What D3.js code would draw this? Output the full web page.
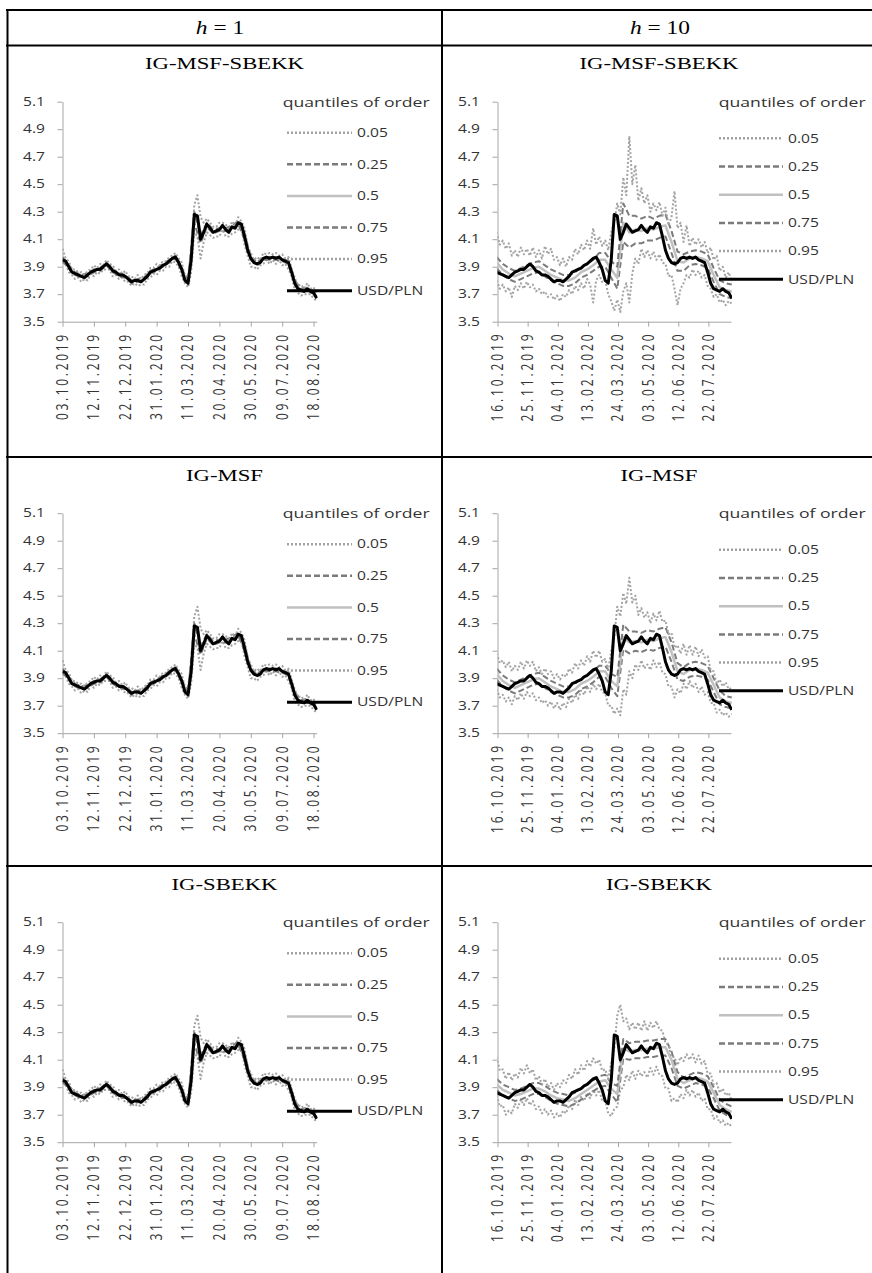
<!DOCTYPE html>
<html><head><meta charset="utf-8">
<script src="https://cdn.jsdelivr.net/npm/d3@7"></script>
<style>html,body{margin:0;padding:0;background:#fff;}svg{display:block;}</style>
</head><body>
<script>
// ---------------- DATA ----------------
const columnHeaders = ["1", "10"];            // h = 1, h = 10
const modelNames = ["IG-MSF-SBEKK", "IG-MSF", "IG-SBEKK"];
const yTicks = [3.5, 3.7, 3.9, 4.1, 4.3, 4.5, 4.7, 4.9, 5.1];
const tickLabelsH1 = ["03.10.2019","12.11.2019","22.12.2019","31.01.2020","11.03.2020","20.04.2020","30.05.2020","09.07.2020","18.08.2020"];
const tickLabelsH10 = ["16.10.2019","25.11.2019","04.01.2020","13.02.2020","24.03.2020","03.05.2020","12.06.2020","22.07.2020"];
const legendTitle = "quantiles of order";
const seriesNames = ["0.05", "0.25", "0.5", "0.75", "0.95", "USD/PLN"];
const gridStart = "2019-10-03";   // observation grid: every 4 days
const gridStepDays = 4;

const usdpln = [3.95,3.94,3.90,3.86,3.85,3.84,3.83,3.82,3.84,3.86,
 3.87,3.88,3.88,3.90,3.92,3.90,3.87,3.86,3.84,3.84,
 3.83,3.81,3.79,3.80,3.80,3.79,3.81,3.83,3.86,3.87,
 3.88,3.89,3.91,3.92,3.94,3.96,3.97,3.93,3.88,3.80,
 3.78,3.95,4.28,4.27,4.10,4.15,4.21,4.18,4.15,4.16,
 4.17,4.20,4.17,4.15,4.19,4.18,4.22,4.21,4.12,4.02,
 3.96,3.93,3.92,3.93,3.96,3.97,3.96,3.97,3.96,3.97,
 3.95,3.94,3.93,3.86,3.78,3.74,3.73,3.72,3.74,3.72,
 3.71,3.67];

// h = 1 quantiles (shared by the three models), grid from k=0
const h1_q05 = [3.93,3.92,3.86,3.84,3.81,3.82,3.79,3.81,3.80,3.85,
 3.83,3.86,3.85,3.88,3.88,3.88,3.83,3.84,3.81,3.82,
 3.79,3.79,3.76,3.78,3.76,3.77,3.77,3.81,3.82,3.85,
 3.84,3.87,3.87,3.90,3.90,3.94,3.93,3.90,3.83,3.78,
 3.75,3.86,4.15,4.12,3.96,4.08,4.15,4.13,4.11,4.12,
 4.12,4.17,4.12,4.12,4.14,4.15,4.17,4.18,4.06,3.98,
 3.90,3.90,3.88,3.91,3.92,3.95,3.92,3.95,3.92,3.95,
 3.91,3.92,3.88,3.83,3.73,3.71,3.69,3.70,3.70,3.70,
 3.67,3.65];
const h1_q25 = [3.94,3.89,3.84,3.82,3.83,3.86,3.87,3.91,3.86,3.83,
 3.82,3.78,3.79,3.80,3.85,3.87,3.90,3.93,3.96,3.87,
 3.77,4.22,4.07,4.19,4.14,4.16,4.16,4.18,4.21,4.10,
 3.95,3.91,3.95,3.95,3.95,3.94,3.92,3.77,3.72,3.73,
 3.70];
const h1_q50 = [3.96,3.94,3.91,3.87,3.85,3.84,3.83,3.83,3.84,3.86,
 3.87,3.88,3.89,3.90,3.92,3.91,3.88,3.86,3.85,3.84,
 3.83,3.81,3.80,3.80,3.80,3.79,3.81,3.83,3.85,3.87,
 3.88,3.89,3.91,3.92,3.94,3.96,3.97,3.94,3.89,3.81,
 3.79,3.93,4.25,4.27,4.12,4.15,4.20,4.18,4.15,4.16,
 4.17,4.19,4.17,4.15,4.18,4.18,4.22,4.21,4.13,4.03,
 3.96,3.93,3.92,3.93,3.96,3.97,3.96,3.97,3.96,3.97,
 3.95,3.94,3.93,3.87,3.79,3.75,3.73,3.72,3.74,3.72,
 3.71,3.68];
const h1_q75 = [3.97,3.91,3.86,3.84,3.85,3.88,3.89,3.93,3.88,3.85,
 3.84,3.80,3.81,3.82,3.87,3.89,3.92,3.95,3.98,3.89,
 3.79,4.30,4.13,4.22,4.17,4.18,4.18,4.20,4.23,4.14,
 3.97,3.93,3.97,3.97,3.97,3.96,3.94,3.80,3.74,3.75,
 3.72];
const h1_q95 = [4.03,3.96,3.94,3.88,3.88,3.86,3.86,3.84,3.87,3.88,
 3.91,3.89,3.92,3.91,3.95,3.92,3.91,3.87,3.88,3.85,
 3.87,3.83,3.83,3.81,3.84,3.81,3.84,3.85,3.89,3.89,
 3.92,3.91,3.94,3.94,3.97,3.98,4.00,3.96,3.93,3.83,
 3.83,4.02,4.35,4.42,4.26,4.22,4.25,4.22,4.19,4.19,
 4.22,4.22,4.21,4.17,4.23,4.20,4.26,4.23,4.18,4.05,
 4.00,3.95,3.97,3.95,4.00,3.99,4.00,3.99,4.00,3.98,
 3.99,3.96,3.97,3.89,3.82,3.76,3.77,3.74,3.78,3.74,
 3.75,3.70];

// h = 10, IG-MSF-SBEKK (q05/q95 from k=3 every step, q25/q50/q75 every 2 steps)
const msfsbekk_q05 = [3.80,3.74,3.77,3.72,3.75,3.68,3.76,3.73,3.78,3.74,
 3.79,3.75,3.77,3.72,3.74,3.70,3.72,3.68,3.70,3.66,
 3.69,3.65,3.70,3.68,3.73,3.70,3.76,3.73,3.78,3.74,
 3.81,3.77,3.64,3.80,3.84,3.79,3.80,3.70,3.65,3.58,
 3.66,3.57,3.72,3.78,3.64,3.85,3.96,3.92,4.03,3.97,
 4.02,3.96,4.01,3.95,3.99,3.93,3.92,3.83,3.84,3.74,
 3.62,3.74,3.78,3.84,3.82,3.88,3.84,3.87,3.82,3.84,
 3.76,3.74,3.68,3.70,3.64,3.66,3.62,3.65,3.63];
const msfsbekk_q25 = [3.89,3.84,3.81,3.79,3.81,3.83,3.85,3.86,3.83,3.80,
 3.78,3.76,3.76,3.78,3.82,3.84,3.87,3.90,3.90,3.82,
 3.74,4.08,4.04,4.07,4.07,4.09,4.09,4.11,4.12,4.00,
 3.87,3.87,3.91,3.92,3.91,3.89,3.79,3.70,3.68,3.67];
const msfsbekk_q50 = [3.93,3.88,3.85,3.83,3.85,3.87,3.89,3.90,3.87,3.84,
 3.82,3.80,3.80,3.82,3.86,3.88,3.91,3.95,3.95,3.88,
 3.82,4.22,4.15,4.17,4.16,4.18,4.17,4.19,4.20,4.08,
 3.94,3.93,3.96,3.97,3.96,3.94,3.84,3.75,3.73,3.72];
const msfsbekk_q75 = [3.97,3.92,3.89,3.87,3.89,3.91,3.93,3.94,3.91,3.88,
 3.86,3.84,3.84,3.86,3.90,3.92,3.95,4.00,4.00,3.94,
 3.90,4.36,4.27,4.27,4.25,4.27,4.25,4.27,4.28,4.16,
 4.01,3.99,4.01,4.02,4.01,3.99,3.89,3.80,3.78,3.77];
const msfsbekk_q95 = [4.15,4.06,4.09,4.03,4.07,3.98,4.02,3.97,4.04,3.99,
 4.03,3.98,4.04,3.97,4.02,3.96,4.05,3.99,4.03,3.95,
 3.97,3.91,3.96,3.90,3.97,3.95,4.03,3.99,4.06,4.02,
 4.09,4.03,4.18,4.06,4.12,4.05,4.09,4.02,4.15,4.22,
 4.36,4.28,4.55,4.42,4.85,4.50,4.64,4.38,4.47,4.36,
 4.42,4.30,4.36,4.31,4.37,4.27,4.33,4.20,4.26,4.45,
 4.18,4.22,4.08,4.20,4.05,4.11,4.06,4.10,4.04,4.08,
 4.00,4.04,3.95,3.98,3.87,3.90,3.82,3.86,3.79];

// h = 10, IG-MSF
const msf_q05 = [3.82,3.76,3.78,3.73,3.76,3.71,3.77,3.74,3.79,3.75,
 3.80,3.77,3.79,3.74,3.76,3.72,3.74,3.70,3.73,3.68,
 3.72,3.67,3.72,3.69,3.75,3.72,3.78,3.75,3.81,3.78,
 3.84,3.80,3.86,3.82,3.86,3.80,3.79,3.70,3.70,3.64,
 3.68,3.63,3.82,3.78,3.95,3.90,4.00,3.96,4.03,3.97,
 4.00,3.96,4.03,3.98,4.02,3.94,3.93,3.84,3.84,3.76,
 3.82,3.79,3.86,3.82,3.88,3.83,3.86,3.80,3.84,3.78,
 3.80,3.72,3.72,3.65,3.67,3.63,3.65,3.62,3.64];
const msf_q25 = [3.89,3.84,3.81,3.79,3.81,3.83,3.85,3.86,3.83,3.80,
 3.78,3.76,3.76,3.78,3.82,3.84,3.87,3.91,3.91,3.83,
 3.77,4.11,4.08,4.10,4.09,4.11,4.10,4.12,4.13,4.02,
 3.89,3.88,3.91,3.92,3.91,3.89,3.80,3.71,3.69,3.68];
const msf_q50 = [3.93,3.88,3.85,3.83,3.85,3.87,3.89,3.90,3.87,3.84,
 3.82,3.80,3.80,3.82,3.86,3.88,3.91,3.95,3.95,3.88,
 3.84,4.20,4.16,4.17,4.16,4.18,4.17,4.19,4.20,4.09,
 3.95,3.93,3.96,3.97,3.96,3.94,3.85,3.76,3.73,3.72];
const msf_q75 = [3.97,3.92,3.89,3.87,3.89,3.91,3.93,3.94,3.91,3.88,
 3.86,3.84,3.84,3.86,3.90,3.92,3.95,3.99,3.99,3.93,
 3.91,4.29,4.24,4.24,4.23,4.25,4.24,4.26,4.27,4.16,
 4.01,3.98,4.01,4.02,4.01,3.99,3.90,3.81,3.77,3.76];
const msf_q95 = [4.08,4.01,4.03,3.98,4.02,3.95,3.99,3.96,4.02,3.97,
 4.03,3.99,4.02,3.95,3.98,3.93,3.97,3.93,3.95,3.90,
 3.93,3.89,3.93,3.91,3.97,3.94,4.01,3.97,4.03,3.99,
 4.06,4.02,4.10,4.05,4.10,4.02,4.04,3.96,4.10,4.20,
 4.42,4.35,4.52,4.44,4.63,4.45,4.50,4.36,4.41,4.34,
 4.38,4.30,4.37,4.32,4.39,4.31,4.32,4.22,4.23,4.12,
 4.14,4.08,4.15,4.07,4.14,4.07,4.13,4.06,4.11,4.05,
 4.06,3.96,3.95,3.86,3.89,3.84,3.87,3.82,3.83];

// h = 10, IG-SBEKK
const sbekk_q05 = [3.84,3.76,3.77,3.70,3.73,3.71,3.78,3.75,3.81,3.77,
 3.82,3.77,3.80,3.74,3.76,3.71,3.74,3.70,3.73,3.68,
 3.71,3.68,3.73,3.71,3.77,3.74,3.81,3.77,3.83,3.80,
 3.86,3.82,3.88,3.84,3.88,3.80,3.80,3.71,3.69,3.74,
 3.76,3.88,3.90,3.99,3.95,4.02,3.96,4.02,3.98,4.01,
 3.97,4.04,3.99,4.05,3.99,3.98,3.89,3.89,3.80,3.82,
 3.79,3.85,3.82,3.88,3.84,3.88,3.83,3.86,3.80,3.82,
 3.74,3.74,3.67,3.69,3.64,3.66,3.62,3.64,3.61];
const sbekk_q25 = [3.88,3.84,3.82,3.80,3.81,3.83,3.85,3.85,3.83,3.80,
 3.78,3.77,3.76,3.78,3.81,3.84,3.87,3.90,3.91,3.85,
 3.79,4.11,4.10,4.11,4.11,4.12,4.12,4.13,4.13,4.04,
 3.91,3.89,3.91,3.93,3.92,3.90,3.82,3.73,3.70,3.68];
const sbekk_q50 = [3.92,3.88,3.86,3.84,3.85,3.87,3.89,3.89,3.87,3.84,
 3.82,3.81,3.80,3.82,3.85,3.88,3.91,3.94,3.95,3.89,
 3.85,4.18,4.16,4.17,4.17,4.18,4.18,4.19,4.19,4.10,
 3.96,3.93,3.95,3.97,3.96,3.94,3.86,3.77,3.74,3.72];
const sbekk_q75 = [3.96,3.92,3.90,3.88,3.89,3.91,3.93,3.93,3.91,3.88,
 3.86,3.85,3.84,3.86,3.89,3.92,3.95,3.98,3.99,3.93,
 3.91,4.25,4.22,4.23,4.23,4.24,4.24,4.25,4.25,4.16,
 4.01,3.97,3.99,4.01,4.00,3.98,3.90,3.81,3.78,3.76];
const sbekk_q95 = [4.12,4.02,4.03,3.96,4.01,3.95,4.00,3.97,4.04,4.00,
 4.06,4.00,4.03,3.95,3.98,3.92,3.96,3.90,3.93,3.88,
 3.93,3.90,3.95,3.93,3.99,3.96,4.03,3.99,4.06,4.02,
 4.09,4.05,4.11,4.07,4.10,4.02,4.03,3.96,4.08,4.18,
 4.42,4.50,4.38,4.40,4.32,4.37,4.32,4.37,4.31,4.38,
 4.31,4.37,4.33,4.38,4.32,4.31,4.22,4.21,4.12,4.12,
 4.06,4.12,4.09,4.14,4.10,4.14,4.08,4.13,4.07,4.09,
 4.00,4.00,3.92,3.93,3.86,3.89,3.84,3.86,3.80];

// ---------------- LAYOUT / STYLE ----------------
const W = 872, H = 1273;
const SANS = "'Open Sans', 'Noto Sans', sans-serif";
const SERIF = "'Liberation Serif', 'DejaVu Serif', serif";
const SX = 1.3;            // horizontal stretch of the original figure's text
const rowTops = [45.5, 457, 866];
const cols = [
  {axisX: 62.5, right: 316.7, start: "2019-10-03", end: "2020-08-22", ticks: tickLabelsH1, grid: [[0,1],[0,2],[0,1],[0,2],[0,1]],
   legTitleX: 282.7, legLine: [287, 352], legY0: 87.2, legDy: 31.6, center: 224.5, lblOff: 13.3, lblLen: 85},
  {axisX: 497.5, right: 731, start: "2019-10-16", end: "2020-08-21", ticks: tickLabelsH10, grid: [[3,1],[3,2],[3,2],[3,2],[3,1]],
   legTitleX: 718.7, legLine: [719, 783], legY0: 92.8, legDy: 28.2, center: 659, lblOff: 12.7, lblLen: 87}
];
const quantileSets = [
  [[h1_q05,h1_q25,h1_q50,h1_q75,h1_q95], [msfsbekk_q05,msfsbekk_q25,msfsbekk_q50,msfsbekk_q75,msfsbekk_q95]],
  [[h1_q05,h1_q25,h1_q50,h1_q75,h1_q95], [msf_q05,msf_q25,msf_q50,msf_q75,msf_q95]],
  [[h1_q05,h1_q25,h1_q50,h1_q75,h1_q95], [sbekk_q05,sbekk_q25,sbekk_q50,sbekk_q75,sbekk_q95]]
];
const STY = [
  {stroke: "#a3a3a3", w: 2,   dash: "2,2"},
  {stroke: "#7b7b7b", w: 2,   dash: "6,3"},
  {stroke: "#c0c0c0", w: 2.5, dash: null},
  {stroke: "#7b7b7b", w: 2,   dash: "6,3"},
  {stroke: "#a3a3a3", w: 2,   dash: "2,2"},
  {stroke: "#000000", w: 3,   dash: null}
];
const TXT = "#333333";

const parseISO = d3.timeParse("%Y-%m-%d");
const parseDM = d3.timeParse("%d.%m.%Y");
const t0 = parseISO(gridStart);
const toSeries = (vals, k0, step) => vals.map((v, i) => ({d: d3.timeDay.offset(t0, (k0 + i * step) * gridStepDays), v}));

const svg = d3.select("body").append("svg").attr("width", W).attr("height", H);
svg.append("rect").attr("width", W).attr("height", H).attr("fill", "#fff");

function stext(g, x, y, str, o) {
  const t = g.append("text")
    .attr("transform", `translate(${x},${y}) scale(${o.sx || SX},1)` + (o.rot ? ` rotate(${o.rot})` : ""))
    .attr("text-anchor", o.anchor || "start").attr("dy", o.dy || "0.35em")
    .style("font-family", o.font || SANS).style("font-size", (o.size || 12) + "px")
    .attr("fill", o.fill || TXT).text(str);
  if (o.len) t.attr("textLength", o.len).attr("lengthAdjust", o.adj || "spacingAndGlyphs");
  return t;
}

// ---- panels ----
rowTops.forEach((T, r) => {
  cols.forEach((C, c) => {
    const g = svg.append("g");
    const y = d3.scaleLinear().domain([3.5, 5.1]).range([T + 276.2, T + 56.2]);
    const x = d3.scaleTime().domain([parseISO(C.start), parseISO(C.end)]).range([C.axisX, C.right]);
    const clipId = `clip${r}${c}`;
    svg.append("clipPath").attr("id", clipId).append("rect")
      .attr("x", C.axisX).attr("y", T + 20).attr("width", C.right - C.axisX + 1).attr("height", 300);

    // title
    stext(g, C.center, T + 18, modelNames[r], {font: SERIF, size: 16, anchor: "middle", sx: 1.42, fill: "#000"});

    // axes
    const yAx = g.append("g").attr("transform", `translate(${C.axisX},0)`)
      .call(d3.axisLeft(y).tickValues(yTicks).tickSize(5).tickSizeOuter(0).tickFormat(() => ""));
    const xAx = g.append("g").attr("transform", `translate(0,${y(3.5)})`)
      .call(d3.axisBottom(x).tickValues(C.ticks.map(parseDM)).tickSize(5).tickSizeOuter(0).tickFormat(() => ""));
    [yAx, xAx].forEach(a => { a.selectAll("path,line").attr("stroke", "#a6a6a6"); a.selectAll("text").remove(); });
    yTicks.forEach(v => stext(g, C.axisX - 17.5, y(v), d3.format(".1f")(v), {anchor: "end", size: 12}));
    C.ticks.forEach(s => stext(g, x(parseDM(s)), y(3.5) + C.lblOff, s, {anchor: "end", size: 12, rot: -90, len: C.lblLen, adj: "spacing"}));

    // series
    const line = d3.line().x(d => x(d.d)).y(d => y(d.v));
    const plot = g.append("g").attr("clip-path", `url(#${clipId})`);
    const qs = quantileSets[r][c];
    const all = qs.map((vals, i) => toSeries(vals, C.grid[i][0], C.grid[i][1]));
    all.push(toSeries(usdpln, 0, 1));
    all.forEach((s, i) => {
      plot.append("path").datum(s).attr("d", line).attr("fill", "none")
        .attr("stroke", STY[i].stroke).attr("stroke-width", STY[i].w)
        .attr("stroke-dasharray", STY[i].dash).attr("stroke-linejoin", "round");
    });

    // legend
    stext(g, C.legTitleX, T + 57.2, legendTitle, {size: 12, len: 147 / SX});
    seriesNames.forEach((nm, i) => {
      const ly = T + C.legY0 + i * C.legDy;
      g.append("line").attr("x1", C.legLine[0]).attr("x2", C.legLine[1]).attr("y1", ly).attr("y2", ly)
        .attr("stroke", STY[i].stroke).attr("stroke-width", i === 5 ? 3 : 2.5).attr("stroke-dasharray", STY[i].dash);
      stext(g, C.legLine[1] + 5, ly, nm, {size: 12});
    });
  });
});

// ---- table grid ----
const grid = svg.append("g").attr("stroke", "#000").attr("stroke-width", 2);
grid.append("line").attr("x1", 6).attr("x2", W).attr("y1", 10).attr("y2", 10);
rowTops.forEach(yy => grid.append("line").attr("x1", 6).attr("x2", W).attr("y1", yy).attr("y2", yy));
grid.append("line").attr("x1", 7.5).attr("x2", 7.5).attr("y1", 9).attr("y2", H);
grid.append("line").attr("x1", 442).attr("x2", 442).attr("y1", 9).attr("y2", H);

// ---- header ----
[220, 660].forEach((cx, i) => {
  const t = svg.append("text").attr("transform", `translate(${cx},28) scale(1.3,1)`).attr("text-anchor", "middle")
    .attr("dy", "0.35em").style("font-family", SERIF).style("font-size", "18px").attr("fill", "#000");
  t.append("tspan").style("font-style", "italic").text("h");
  t.append("tspan").text(" = " + columnHeaders[i]);
});
</script>
</body></html>
